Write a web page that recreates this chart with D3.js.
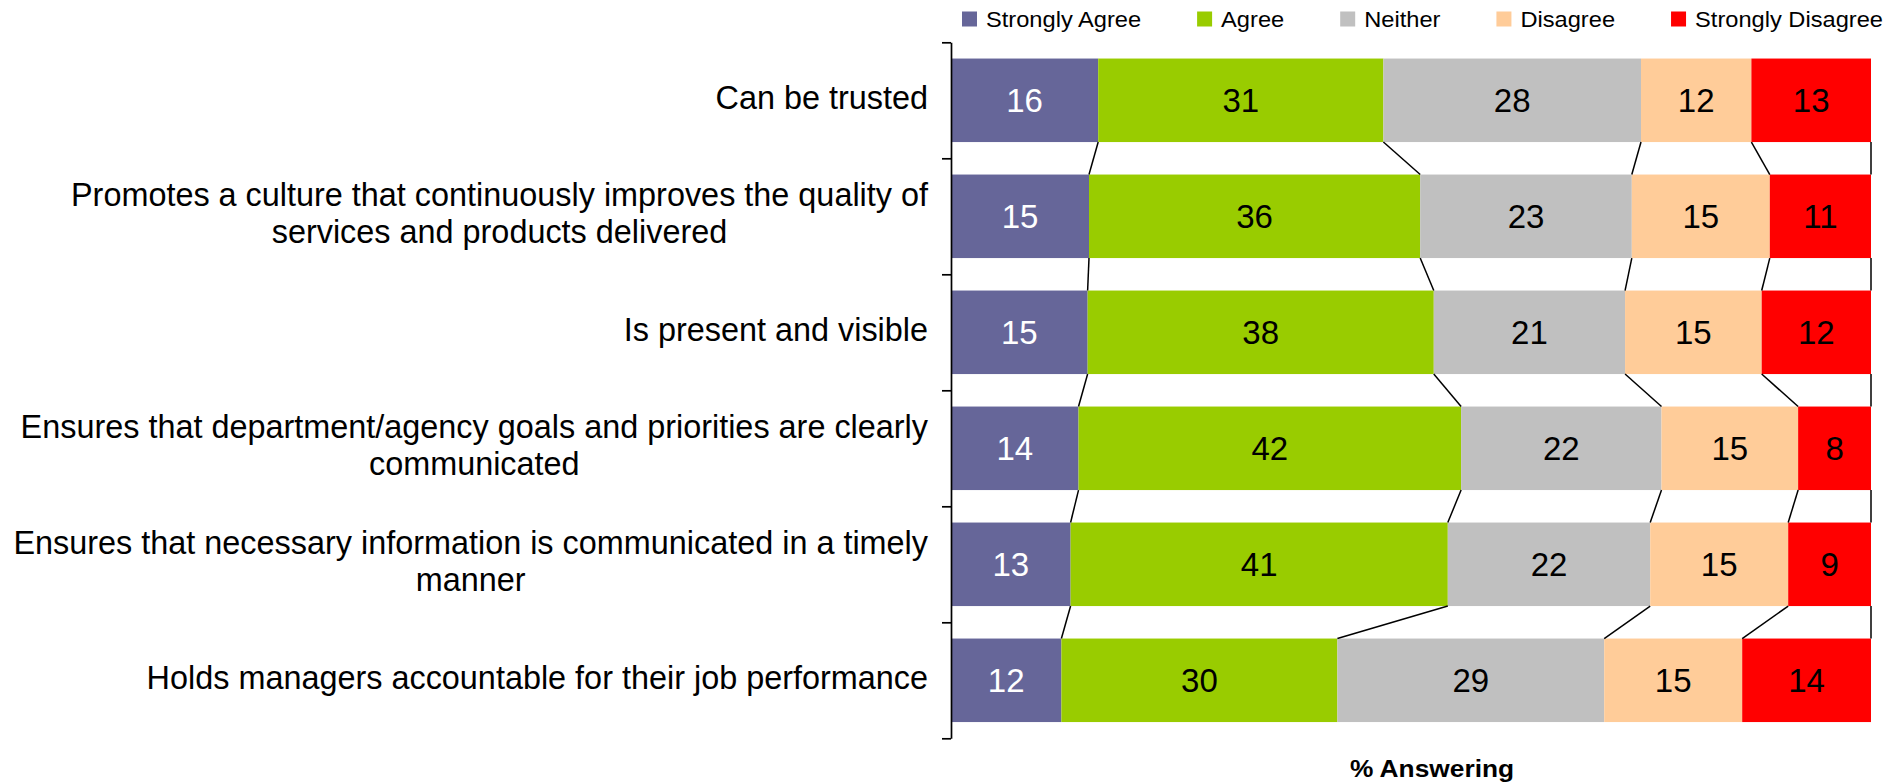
<!DOCTYPE html>
<html>
<head>
<meta charset="utf-8">
<script src="https://cdn.jsdelivr.net/npm/d3@7"></script>
<style>
  html, body { margin: 0; padding: 0; background: #fff; }
  svg { display: block; font-family: "Liberation Sans", Arial, sans-serif; }
</style>
</head>
<body>
<svg id="chart" width="1902" height="784"></svg>
<script>
// Survey statements (a "\n" marks where a long label wraps)
const categories = [
  "Can be trusted",
  "Promotes a culture that continuously improves the quality of\nservices and products delivered",
  "Is present and visible",
  "Ensures that department/agency goals and priorities are clearly\ncommunicated",
  "Ensures that necessary information is communicated in a timely\nmanner",
  "Holds managers accountable for their job performance"
];

// Response scale, in stacking order
const responses = ["Strongly Agree", "Agree", "Neither", "Disagree", "Strongly Disagree"];

// Percent answering each response, one value per statement
const stronglyAgree    = [16, 15, 15, 14, 13, 12];
const agree            = [31, 36, 38, 42, 41, 30];
const neither          = [28, 23, 21, 22, 22, 29];
const disagree         = [12, 15, 15, 15, 15, 15];
const stronglyDisagree = [13, 11, 12,  8,  9, 14];

const axisTitle = "% Answering";

const colors      = ["#666699", "#99CC00", "#C0C0C0", "#FFCC99", "#FF0000"];
const labelColors = ["#FFFFFF", "#000000", "#000000", "#000000", "#000000"];

const seriesValues = [stronglyAgree, agree, neither, disagree, stronglyDisagree];
const rows = categories.map((c, i) => {
  const r = { category: c };
  responses.forEach((k, j) => { r[k] = seriesValues[j][i]; });
  return r;
});

const svg = d3.select("#chart");

// Plot area
const plot = { left: 951, right: 1871, top: 42.3, bottom: 738.3 };

// 100% stacked bars: each statement's responses fill the full width
const stacked = d3.stack().keys(responses).offset(d3.stackOffsetExpand)(rows);

const x = d3.scaleLinear().domain([0, 1]).range([plot.left, plot.right]);
const y = d3.scaleBand().domain(categories)
  .range([plot.top, plot.bottom])
  .paddingInner(0.28).paddingOuter(0.14);

// Bars
const layers = svg.append("g").selectAll("g")
  .data(stacked).join("g")
  .attr("fill", (d, i) => colors[i]);

layers.selectAll("rect")
  .data(d => d.map(p => ({ p, key: d.key })))
  .join("rect")
  .attr("x", d => x(d.p[0]))
  .attr("y", d => y(d.p.data.category))
  .attr("width", d => x(d.p[1]) - x(d.p[0]))
  .attr("height", y.bandwidth());

// Series lines joining the segment boundaries of consecutive bars
const connectors = [];
stacked.forEach(s => {
  for (let i = 0; i < s.length - 1; i++) {
    connectors.push({
      x1: x(s[i][1]), y1: y(s[i].data.category) + y.bandwidth(),
      x2: x(s[i + 1][1]), y2: y(s[i + 1].data.category)
    });
  }
});
svg.append("g").selectAll("line")
  .data(connectors).join("line")
  .attr("x1", d => d.x1).attr("y1", d => d.y1)
  .attr("x2", d => d.x2).attr("y2", d => d.y2)
  .attr("stroke", "#000").attr("stroke-width", 1.5);

// Value labels inside the segments
layers.each(function (s, si) {
  d3.select(this).selectAll("text")
    .data(s).join("text")
    .attr("x", p => (x(p[0]) + x(p[1])) / 2)
    .attr("y", p => y(p.data.category) + y.bandwidth() / 2)
    .attr("dy", "0.36em")
    .attr("text-anchor", "middle")
    .attr("font-size", 33)
    .attr("fill", labelColors[si])
    .text(p => p.data[s.key]);
});

// Category axis: ticks sit on the band boundaries
const yEdge = d3.scaleLinear().domain([0, categories.length]).range([plot.top, plot.bottom]);
const axisG = svg.append("g")
  .attr("transform", `translate(${plot.left},0)`)
  .call(d3.axisLeft(yEdge).tickValues(d3.range(categories.length + 1))
    .tickFormat("").tickSize(9).tickSizeOuter(0));
axisG.selectAll("path, line").attr("stroke", "#000").attr("stroke-width", 1.7);

// Category labels: block right-aligned to the axis, wrapped lines centred
const labelRight = 928;
const lineGap = 36.7;
categories.forEach(c => {
  const lines = c.split("\n");
  const cy = y(c) + y.bandwidth() / 2 + 8.4;
  const t = svg.append("g");
  const texts = lines.map((ln, j) => t.append("text")
    .attr("font-size", 32.4)
    .attr("fill", "#000")
    .attr("text-anchor", "middle")
    .attr("y", cy + (j - (lines.length - 1) / 2) * lineGap)
    .text(ln));
  const maxW = d3.max(texts, s => s.node().getComputedTextLength());
  texts.forEach(s => s.attr("x", labelRight - maxW / 2));
});

// Legend across the top
const legendScale = 1.1;
let lx = 962;
const legend = svg.append("g");
responses.forEach((r, i) => {
  legend.append("rect")
    .attr("x", lx).attr("y", 11.5)
    .attr("width", 15).attr("height", 15)
    .attr("fill", colors[i]);
  const g = legend.append("g")
    .attr("transform", `translate(${lx + 24},26.9) scale(${legendScale},1)`);
  const t = g.append("text")
    .attr("font-size", 21.5)
    .attr("fill", "#000")
    .text(r);
  const w = t.node().getComputedTextLength() * legendScale;
  lx += 24 + w + 56;
});

// Value axis title
svg.append("g")
  .attr("transform", "translate(1432,777) scale(1.12,1)")
  .append("text")
  .attr("text-anchor", "middle")
  .attr("font-size", 23.5)
  .attr("font-weight", "bold")
  .attr("fill", "#000")
  .text(axisTitle);
</script>
</body>
</html>
